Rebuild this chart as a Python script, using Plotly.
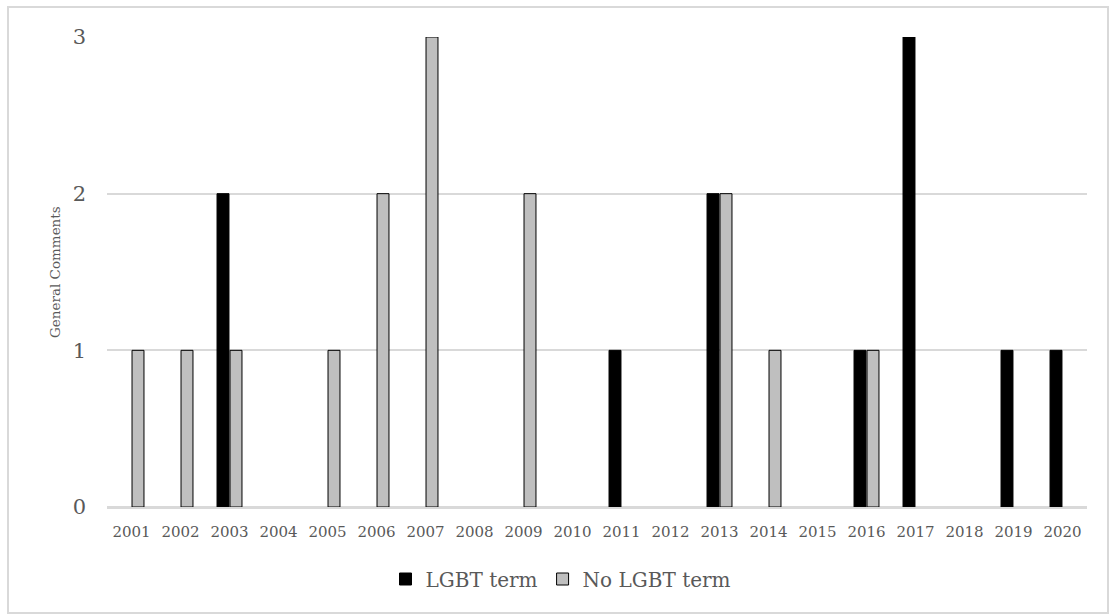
import plotly.graph_objects as go

years = [str(y) for y in range(2001, 2021)]
lgbt_term = [0, 0, 2, 0, 0, 0, 0, 0, 0, 0, 1, 0, 2, 0, 0, 1, 3, 0, 1, 1]
no_lgbt_term = [1, 1, 1, 0, 1, 2, 3, 0, 2, 0, 0, 0, 2, 1, 0, 1, 0, 0, 0, 0]
y_ticks = [0, 1, 2, 3]

FONT = "DejaVu Serif"
TXT = "#595959"
GRID = "#D9D9D9"

W, H = 1109, 615
L, R, T, B = 107, 22, 37, 108
pw, ph = W - L - R, H - T - B


def hide_zero(vals):
    # zero counts get no visible bar (avoids a stroked flat line on the axis)
    return [v if v else None for v in vals]


fig = go.Figure()
fig.add_trace(go.Bar(
    x=years, y=hide_zero(lgbt_term), name="LGBT term",
    marker=dict(color="#000000", line=dict(color="#000000", width=1)),
))
fig.add_trace(go.Bar(
    x=years, y=hide_zero(no_lgbt_term), name="No LGBT term",
    marker=dict(color="#BFBFBF", line=dict(color="#000000", width=1)),
))

fig.update_layout(
    width=W, height=H,
    margin=dict(l=L, r=R, t=T, b=B, autoexpand=False),
    paper_bgcolor="white", plot_bgcolor="white",
    barmode="group", bargap=0.47, bargroupgap=0.08,
    font=dict(family=FONT, color=TXT),
    showlegend=True,
    legend=dict(
        orientation="h", x=(561 - L) / pw, xanchor="center",
        y=(H - B - 579) / ph, yanchor="middle",
        font=dict(size=20, color=TXT, family=FONT),
        itemwidth=30, traceorder="normal",
    ),
)

fig.update_xaxes(
    type="category", showgrid=False, showline=True, linecolor=GRID, linewidth=1.5,
    ticks="", tickfont=dict(size=15, color=TXT, family=FONT),
    ticklabelstandoff=10, automargin=False,
)
fig.update_yaxes(
    range=[0, 3], tickvals=y_ticks, showgrid=True, gridcolor=GRID, gridwidth=1.5,
    zeroline=True, zerolinecolor=GRID, zerolinewidth=1.5, showline=False,
    ticks="", tickfont=dict(size=21, color=TXT, family=FONT),
    ticklabelstandoff=20, automargin=False,
)

# Axis title drawn as rotated annotation
fig.add_annotation(
    text="General Comments", textangle=-90,
    xref="paper", yref="paper", x=(55 - L) / pw, y=0.5,
    xanchor="center", yanchor="middle", showarrow=False,
    font=dict(size=13.5, color=TXT, family=FONT),
)

# Chart-area border
fig.add_shape(
    type="rect", xref="paper", yref="paper",
    x0=(8 - L) / pw, x1=(1108 - L) / pw,
    y0=(H - B - 613) / ph, y1=(H - B - 7) / ph,
    line=dict(color=GRID, width=2), fillcolor="rgba(0,0,0,0)", layer="below",
)

fig.write_html("out.html")
